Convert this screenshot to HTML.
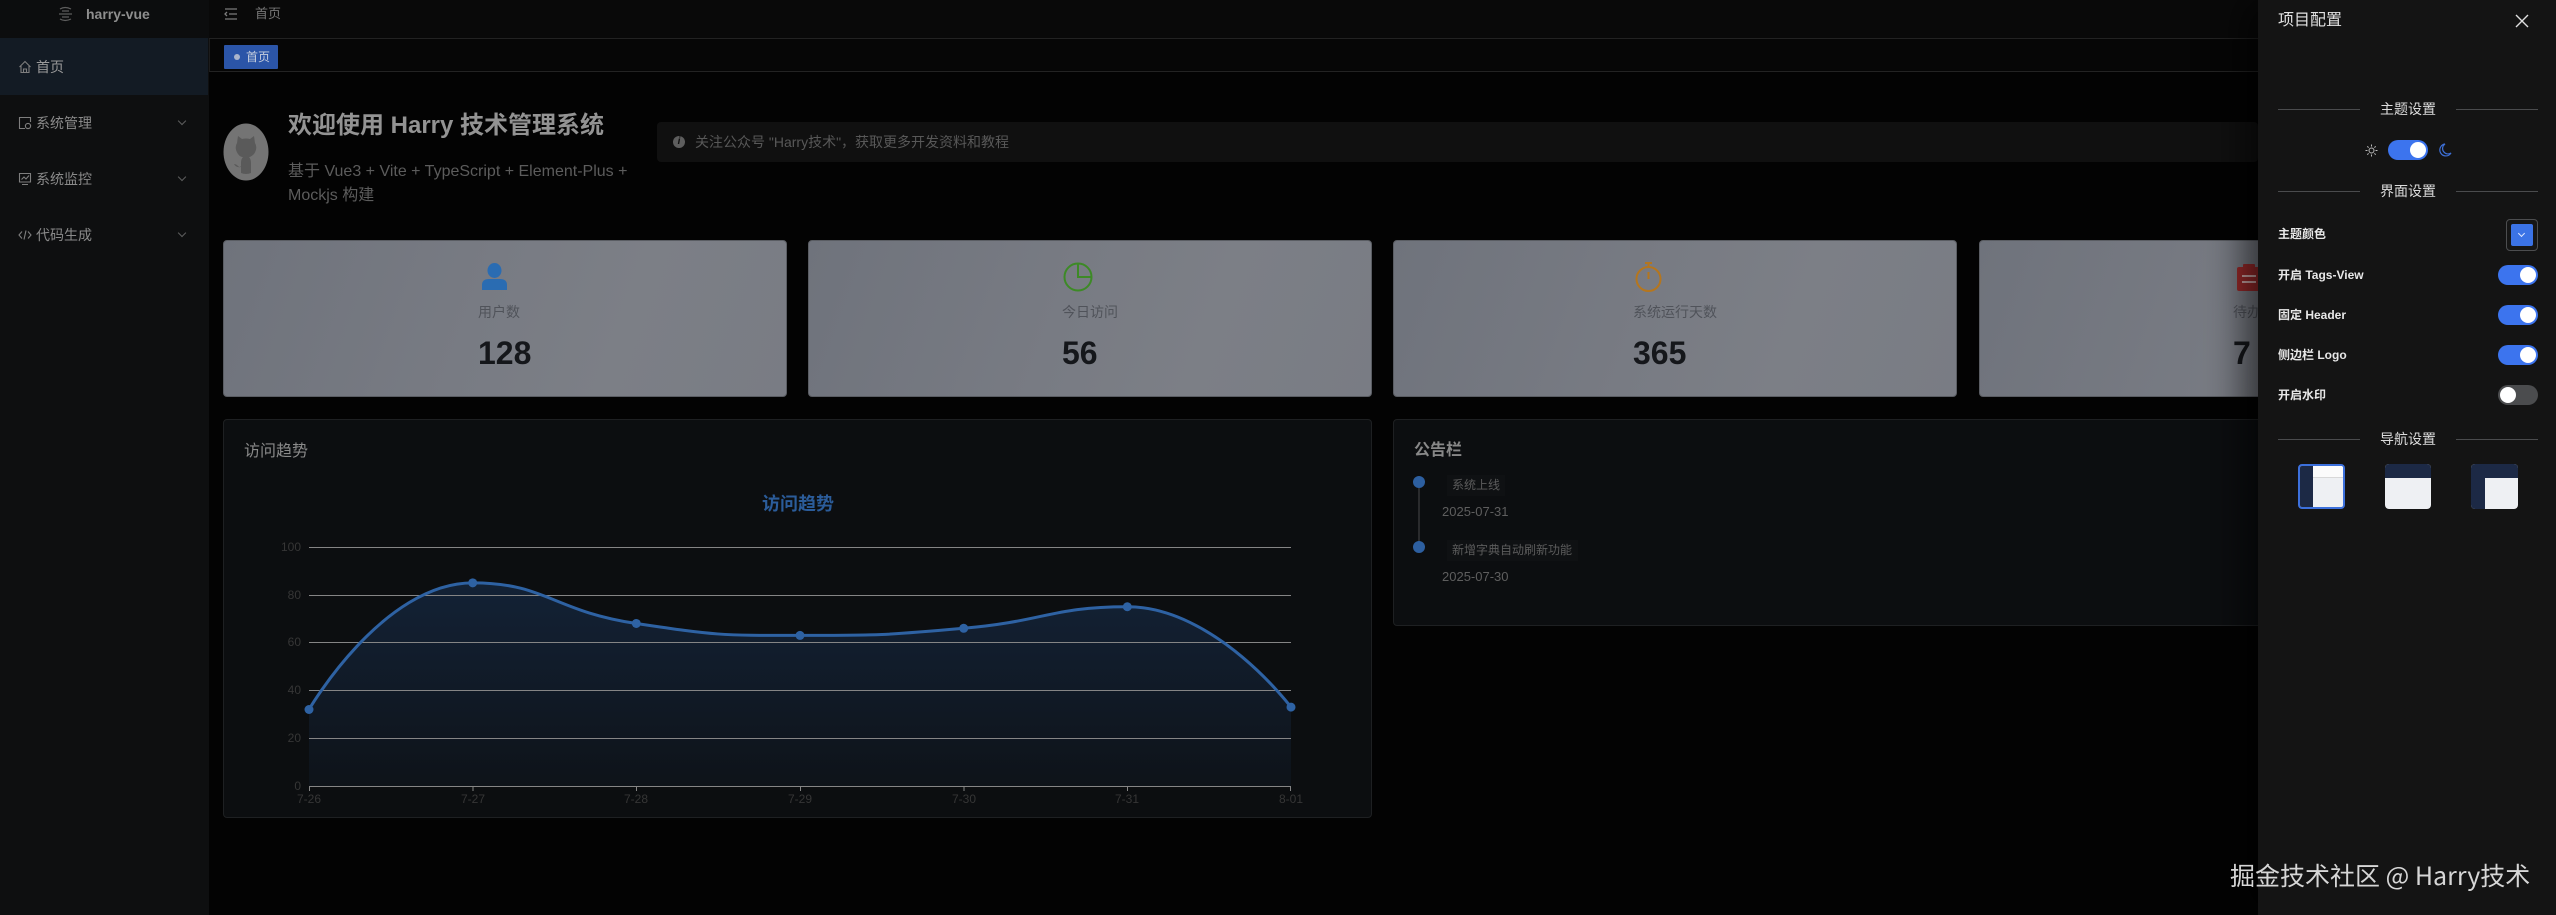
<!DOCTYPE html>
<html><head><meta charset="utf-8">
<style>
*{margin:0;padding:0;box-sizing:border-box}
html,body{width:2556px;height:915px;overflow:hidden;background:#030303;font-family:"Liberation Sans","Noto Sans CJK SC",sans-serif;position:relative}
.a{position:absolute;white-space:nowrap}
.card{position:absolute;top:240px;height:157px;width:564px;border-radius:4px;background:linear-gradient(110deg,#6f737c 0%,#787b83 45%,#7c7f86 70%,#797c84 100%);border:1px solid #5a5d63}
.lbl{position:absolute;font-size:14px;line-height:20px;color:#50535a;top:302px}
.num{position:absolute;font-size:32px;line-height:36px;font-weight:bold;color:#15171b;top:335px}
.box{position:absolute;background:#0c0e10;border:1px solid #1e2022;border-radius:4px}
.menu{position:absolute;left:36px;font-size:14px;line-height:20px;color:#8a8a8a}
.chev{position:absolute;left:179px;width:6px;height:6px;border-right:1px solid #5e5e5e;border-bottom:1px solid #5e5e5e;transform:rotate(45deg)}
.dl{position:absolute;height:1px;background:#4a4b4d}
.dt{position:absolute;font-size:14px;line-height:18px;color:#dcdcdc;width:96px;text-align:center;left:2360px}
.rl{position:absolute;left:2278px;font-size:12px;line-height:16px;font-weight:bold;color:#e8e8e8}
.tg{position:absolute;width:40px;height:20px;border-radius:10px;background:#3c74ee}
.tg i{position:absolute;top:2px;left:22px;width:16px;height:16px;border-radius:8px;background:#fff}
.tg.off{background:#4b4c4e}
.tg.off i{left:2px}
</style></head><body>

<!-- sidebar -->
<div class="a" style="left:0;top:0;width:209px;height:915px;background:#0e0f10"></div>
<div class="a" style="left:0;top:0;width:209px;height:38px;background:#0c0d0e"></div>
<svg class="a" style="left:57px;top:6px" width="17" height="16" viewBox="0 0 17 16"><g stroke="#5e5e5e" stroke-width="1.2" fill="none"><path d="M3 3 Q8 0 14 3"/><path d="M2 8 H15"/><path d="M3 13 Q8 16 14 13"/><path d="M5 5 H12 M5 11 H12"/></g></svg>
<div class="a" style="left:86px;top:5px;font-size:14px;line-height:18px;font-weight:bold;color:#8e8e8e">harry-vue</div>
<div class="a" style="left:0;top:38px;width:208px;height:57px;background:#131b24"></div>

<svg class="a" style="left:18px;top:60px" width="14" height="14" viewBox="0 0 14 14"><path d="M1.5 7 L7 1.5 L12.5 7 M3 6 V12.5 H11 V6 M5.5 12.5 V9 H8.5 V12.5" stroke="#7e7e7e" stroke-width="1.1" fill="none"/></svg>
<div class="menu" style="top:57px;color:#9a9a9a">首页</div>

<svg class="a" style="left:18px;top:116px" width="14" height="14" viewBox="0 0 14 14"><path d="M7 12.5 H1.5 V1.5 H12.5 V6" stroke="#7e7e7e" stroke-width="1.1" fill="none"/><circle cx="10" cy="10" r="2.6" stroke="#7e7e7e" stroke-width="1.1" fill="none"/></svg>
<div class="menu" style="top:113px">系统管理</div>
<div class="chev" style="top:118px"></div>

<svg class="a" style="left:18px;top:172px" width="14" height="14" viewBox="0 0 14 14"><path d="M1.5 1.5 H12.5 V10 H1.5 Z M4 12.5 H10 M3.5 7.5 L6 5 L8 7 L11 3.5" stroke="#7e7e7e" stroke-width="1.1" fill="none"/></svg>
<div class="menu" style="top:169px">系统监控</div>
<div class="chev" style="top:174px"></div>

<svg class="a" style="left:18px;top:228px" width="14" height="14" viewBox="0 0 14 14"><path d="M4 3.5 L1 7 L4 10.5 M10 3.5 L13 7 L10 10.5 M8 2.5 L6 11.5" stroke="#7e7e7e" stroke-width="1.1" fill="none"/></svg>
<div class="menu" style="top:225px">代码生成</div>
<div class="chev" style="top:230px"></div>

<!-- header -->
<div class="a" style="left:209px;top:0;width:2347px;height:39px;background:#090909;border-bottom:1px solid #222"></div>
<svg class="a" style="left:224px;top:8px" width="14" height="12" viewBox="0 0 14 12"><path d="M1 1 H13 M5 6 H13 M1 11 H13 M3 4 L1 6 L3 8" stroke="#7c7c7c" stroke-width="1.3" fill="none"/></svg>
<div class="a" style="left:255px;top:5px;font-size:13px;line-height:18px;color:#777">首页</div>
<!-- tags -->
<div class="a" style="left:209px;top:39px;width:2347px;height:33px;background:#060606;border-bottom:1px solid #232323;border-left:1px solid #1c1c1c"></div>
<div class="a" style="left:224px;top:45px;width:54px;height:24px;background:#2b55a8;border-radius:1px"></div>
<div class="a" style="left:234px;top:54px;width:6px;height:6px;border-radius:3px;background:#aab5cc"></div>
<div class="a" style="left:246px;top:48px;font-size:12px;line-height:18px;color:#c6cede">首页</div>

<!-- welcome -->
<svg class="a" style="left:223px;top:123px" width="46" height="58" viewBox="0 0 46 58"><ellipse cx="23" cy="29" rx="22.5" ry="28.5" fill="#747474"/><path d="M14 20 L15 13 L19 16 Q23 15 27 16 L31 13 L32 20 Q35 25 31 31 Q28 34 26 34 Q28 36 28 40 V50 Q23 52 18 50 V44 Q13 45 11 41 Q13 41 15 43 Q17 45 18 43 V40 Q18 36 20 34 Q17 34 15 31 Q11 25 14 20 Z" fill="#5a5a5a"/></svg>
<div class="a" style="left:288px;top:112px;font-size:24px;line-height:28px;font-weight:bold;color:#939393">欢迎使用 Harry 技术管理系统</div>
<div class="a" style="left:288px;top:160px;font-size:16px;line-height:24px;color:#5c5c5c">基于 Vue3 + Vite + TypeScript + Element-Plus +<br>Mockjs 构建</div>

<div class="a" style="left:657px;top:122px;width:1601px;height:40px;background:#101010;border-radius:4px"></div>
<div class="a" style="left:673px;top:136px;width:12px;height:12px;border-radius:6px;background:#5e5e5e;color:#101010;font-size:10px;line-height:12px;text-align:center;font-weight:bold;font-style:italic">i</div>
<div class="a" style="left:695px;top:133px;font-size:14px;line-height:18px;color:#585858">关注公众号 "Harry技术"，获取更多开发资料和教程</div>

<!-- stat cards -->
<div class="card" style="left:223px"></div>
<div class="card" style="left:808px"></div>
<div class="card" style="left:1393px"></div>
<div class="card" style="left:1979px"></div>

<svg class="a" style="left:480px;top:262px" width="30" height="30" viewBox="0 0 30 30"><ellipse cx="14.5" cy="8.5" rx="7" ry="7.5" fill="#2a6cb2"/><path d="M2 28 V23 Q2 17 9 17 H20 Q27 17 27 23 V28 Z" fill="#2a6cb2"/></svg>
<div class="lbl" style="left:478px">用户数</div>
<div class="num" style="left:478px">128</div>

<svg class="a" style="left:1062px;top:262px" width="32" height="30" viewBox="0 0 32 30"><circle cx="16" cy="15" r="13.5" stroke="#3d8a26" stroke-width="2" fill="none"/><path d="M16 1.5 V15 H29.5" stroke="#3d8a26" stroke-width="2" fill="none"/></svg>
<div class="lbl" style="left:1062px">今日访问</div>
<div class="num" style="left:1062px">56</div>

<svg class="a" style="left:1634px;top:261px" width="30" height="32" viewBox="0 0 30 32"><circle cx="14.5" cy="18" r="12" stroke="#b5761e" stroke-width="2" fill="none"/><path d="M11 2 H18 M14.5 2 V6 M14.5 18 V11" stroke="#b5761e" stroke-width="2" fill="none"/></svg>
<div class="lbl" style="left:1633px">系统运行天数</div>
<div class="num" style="left:1633px">365</div>

<svg class="a" style="left:2236px;top:264px" width="26" height="28" viewBox="0 0 26 28"><rect x="1" y="3" width="24" height="24" rx="2" fill="#97292a"/><rect x="7" y="0" width="12" height="5" rx="1" fill="#97292a"/><path d="M6 12 H20 M6 18 H20" stroke="#c9a4a4" stroke-width="2"/></svg>
<div class="lbl" style="left:2233px">待办事项</div>
<div class="num" style="left:2233px">7</div>

<!-- chart card -->
<div class="box" style="left:223px;top:419px;width:1149px;height:399px"></div>
<div class="a" style="left:244px;top:441px;font-size:16px;line-height:22px;color:#8a8a8a">访问趋势</div>

<svg class="a" style="left:0;top:0" width="1400" height="915" viewBox="0 0 1400 915">
<defs><linearGradient id="ag" x1="0" y1="580" x2="0" y2="786" gradientUnits="userSpaceOnUse"><stop offset="0" stop-color="#132236"/><stop offset="1" stop-color="#0e1319"/></linearGradient></defs>
<text x="798" y="510" text-anchor="middle" font-size="18" font-weight="bold" fill="#2b5c9a" font-family="Liberation Sans, Noto Sans CJK SC, sans-serif">访问趋势</text>
<path d="M309,709.5 C309,709.5 382.5,582.85 472.7,582.85 C546.2,582.85 553.4,611.2 636.3,623.48 C717,635.43 718.05,635.43 800,635.43 C881.8,635.43 882.2,635.4 963.7,628.26 C1045.85,621.06 1051.6,606.75 1127.3,606.75 C1215.3,606.75 1291,707.13 1291,707.13 L1291,786 L309,786 Z" fill="url(#ag)"/>
<g stroke="#858585" stroke-width="1">
<line x1="309" y1="547.5" x2="1291" y2="547.5"/>
<line x1="309" y1="595.5" x2="1291" y2="595.5"/>
<line x1="309" y1="642.5" x2="1291" y2="642.5"/>
<line x1="309" y1="690.5" x2="1291" y2="690.5"/>
<line x1="309" y1="738.5" x2="1291" y2="738.5"/>
<line x1="309" y1="786.5" x2="1291" y2="786.5"/>
<path d="M309.5,786 V791 M473,786 V791 M636.5,786 V791 M800.5,786 V791 M964,786 V791 M1127.5,786 V791 M1290.5,786 V791"/>
</g>
<g font-size="12" fill="#363636" font-family="Liberation Sans, sans-serif" text-anchor="end">
<text x="301" y="551">100</text><text x="301" y="599">80</text><text x="301" y="646">60</text><text x="301" y="694">40</text><text x="301" y="742">20</text><text x="301" y="790">0</text>
</g>
<g font-size="12" fill="#363636" font-family="Liberation Sans, sans-serif" text-anchor="middle">
<text x="309" y="803">7-26</text><text x="473" y="803">7-27</text><text x="636" y="803">7-28</text><text x="800" y="803">7-29</text><text x="964" y="803">7-30</text><text x="1127" y="803">7-31</text><text x="1291" y="803">8-01</text>
</g>
<path d="M309,709.5 C309,709.5 382.5,582.85 472.7,582.85 C546.2,582.85 553.4,611.2 636.3,623.48 C717,635.43 718.05,635.43 800,635.43 C881.8,635.43 882.2,635.4 963.7,628.26 C1045.85,621.06 1051.6,606.75 1127.3,606.75 C1215.3,606.75 1291,707.13 1291,707.13" fill="none" stroke="#2e62a3" stroke-width="3"/>
<g fill="#2e62a3"><circle cx="309" cy="709.5" r="4.5"/><circle cx="472.7" cy="582.85" r="4.5"/><circle cx="636.3" cy="623.48" r="4.5"/><circle cx="800" cy="635.43" r="4.5"/><circle cx="963.7" cy="628.26" r="4.5"/><circle cx="1127.3" cy="606.75" r="4.5"/><circle cx="1291" cy="707.13" r="4.5"/></g>
</svg>

<!-- notice board -->
<div class="box" style="left:1393px;top:419px;width:1150px;height:207px"></div>
<div class="a" style="left:1414px;top:441px;font-size:16px;line-height:20px;font-weight:bold;color:#888">公告栏</div>
<div class="a" style="left:1418px;top:488px;width:2px;height:54px;background:#2a2b2d"></div>
<div class="a" style="left:1413px;top:476px;width:12px;height:12px;border-radius:6px;background:#2d5fa0"></div>
<div class="a" style="left:1413px;top:541px;width:12px;height:12px;border-radius:6px;background:#2d5fa0"></div>
<div class="a" style="left:1447px;top:475px;width:58px;height:21px;background:#0f1113"></div>
<div class="a" style="left:1452px;top:477px;font-size:12px;line-height:16px;color:#5c5c5c">系统上线</div>
<div class="a" style="left:1442px;top:504px;font-size:13px;line-height:16px;color:#5e5e5e">2025-07-31</div>
<div class="a" style="left:1447px;top:540px;width:131px;height:21px;background:#0f1113"></div>
<div class="a" style="left:1452px;top:542px;font-size:12px;line-height:16px;color:#5c5c5c">新增字典自动刷新功能</div>
<div class="a" style="left:1442px;top:569px;font-size:13px;line-height:16px;color:#5e5e5e">2025-07-30</div>

<!-- drawer -->
<div class="a" style="left:2258px;top:0;width:298px;height:915px;background:#141414;box-shadow:-14px 0 36px rgba(0,0,0,.6)"></div>
<div class="a" style="left:2278px;top:11px;font-size:16px;line-height:20px;color:#e2e2e2">项目配置</div>
<svg class="a" style="left:2515px;top:14px" width="14" height="14" viewBox="0 0 14 14"><path d="M1 1 L13 13 M13 1 L1 13" stroke="#e0e0e0" stroke-width="1.4"/></svg>

<div class="dl" style="left:2278px;top:109px;width:82px"></div><div class="dl" style="left:2456px;top:109px;width:82px"></div>
<div class="dt" style="top:100px">主题设置</div>
<svg class="a" style="left:2365px;top:144px" width="13" height="13" viewBox="0 0 13 13"><circle cx="6.5" cy="6.5" r="2.5" stroke="#bbb" fill="none"/><path d="M6.5 0.5 V2.5 M6.5 10.5 V12.5 M0.5 6.5 H2.5 M10.5 6.5 H12.5 M2.3 2.3 L3.6 3.6 M9.4 9.4 L10.7 10.7 M2.3 10.7 L3.6 9.4 M9.4 3.6 L10.7 2.3" stroke="#bbb"/></svg>
<div class="tg" style="left:2388px;top:140px"><i></i></div>
<svg class="a" style="left:2439px;top:143px" width="13" height="14" viewBox="0 0 13 14"><path d="M6 1 A6 6 0 1 0 12 10 A5 5 0 0 1 6 1 Z" stroke="#3d6fd6" stroke-width="1.2" fill="none"/></svg>

<div class="dl" style="left:2278px;top:191px;width:82px"></div><div class="dl" style="left:2456px;top:191px;width:82px"></div>
<div class="dt" style="top:182px">界面设置</div>

<div class="rl" style="top:226px">主题颜色</div>
<div class="a" style="left:2506px;top:219px;width:32px;height:32px;border:1px solid #4c4d4f;border-radius:4px;background:#161616"></div>
<div class="a" style="left:2511px;top:224px;width:22px;height:22px;background:#3b73e6;border-radius:2px"></div>
<div class="a" style="left:2519px;top:231px;width:5px;height:5px;border-right:1px solid #dfe8ff;border-bottom:1px solid #dfe8ff;transform:rotate(45deg)"></div>

<div class="rl" style="top:267px">开启 Tags-View</div>
<div class="tg" style="left:2498px;top:265px"><i></i></div>
<div class="rl" style="top:307px">固定 Header</div>
<div class="tg" style="left:2498px;top:305px"><i></i></div>
<div class="rl" style="top:347px">侧边栏 Logo</div>
<div class="tg" style="left:2498px;top:345px"><i></i></div>
<div class="rl" style="top:387px">开启水印</div>
<div class="tg off" style="left:2498px;top:385px"><i></i></div>

<div class="dl" style="left:2278px;top:439px;width:82px"></div><div class="dl" style="left:2456px;top:439px;width:82px"></div>
<div class="dt" style="top:430px">导航设置</div>

<div class="a" style="left:2298px;top:464px;width:47px;height:45px;border-radius:4px;overflow:hidden;background:#eef0f3;border:2px solid #3c70dc">
  <div class="a" style="left:0;top:0;width:13px;height:41px;background:#1c2945"></div>
  <div class="a" style="left:13px;top:0;width:30px;height:12px;background:#fbfbfb;border-bottom:1px solid #d8d8d8"></div>
</div>
<div class="a" style="left:2385px;top:464px;width:46px;height:45px;border-radius:4px;overflow:hidden;background:#eef0f3">
  <div class="a" style="left:0;top:0;width:46px;height:14px;background:#1c2945"></div>
</div>
<div class="a" style="left:2471px;top:464px;width:47px;height:45px;border-radius:4px;overflow:hidden;background:#eef0f3">
  <div class="a" style="left:0;top:0;width:47px;height:14px;background:#1c2945"></div>
  <div class="a" style="left:0;top:14px;width:14px;height:31px;background:#1c2945"></div>
</div>

<!-- watermark -->
<div class="a" style="left:2230px;top:859px;font-family:'Noto Sans CJK SC','Liberation Sans',sans-serif;font-size:25px;line-height:32px;color:#d6d6d6">掘金技术社区 @ Harry技术</div>

</body></html>
